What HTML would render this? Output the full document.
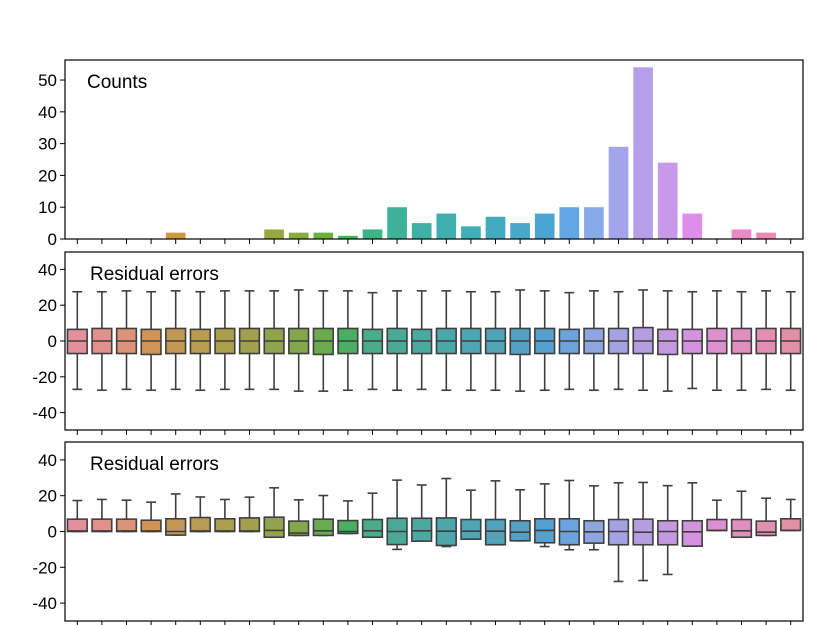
<!DOCTYPE html>
<html><head><meta charset="utf-8">
<style>
html,body{margin:0;padding:0;background:#fff;}
svg{display:block;font-family:"Liberation Sans",sans-serif;}
</style></head>
<body>
<svg id="chart" width="818" height="625" viewBox="0 0 818 625" xmlns="http://www.w3.org/2000/svg"></svg>
<script>
const categories = Array.from({length:30},(_,i)=>'c'+i);
const counts = [0,0,0,0,2,0,0,0,3,2,2,1,3,10,5,8,4,7,5,8,10,10,29,54,24,8,0,3,2,0];
const countTicks = [0,10,20,30,40,50];
const resTicks = [-40,-20,0,20,40];
// panel 2 boxes
const r1Q1 = [-7,-7,-7,-7.5,-7,-7,-7,-7,-7,-7,-7.5,-7,-7,-7,-7,-7,-7,-7,-7.5,-7,-7,-7,-7,-7,-7.5,-7,-7,-7,-7,-7];
const r1Med = [0,0,0,0,0,0,0,0,0,0,0,0,0,0,0,0,0,0,0,0,0,0,0,0,0,0,0,0,0,0];
const r1Q3 = [6.5,7,7,6.5,7,6.5,7,7,7,7,7,7,6.5,7,6.5,7,7,7,7,7,6.5,7,7,7.5,6.5,6.5,7,7,7,7];
const r1Lo = [-27,-27.5,-27,-27.5,-27,-27.5,-27,-27,-27,-28,-28,-27.5,-27,-27.5,-27,-27.5,-27.5,-27.5,-28,-27.5,-27,-27.5,-27,-27.5,-28,-26.5,-27.5,-27.5,-27,-27.5];
const r1Hi = [27.5,27.5,28,27.5,28,27.5,28,28,28,28.5,28,28,27,28,28,28,27.5,27.5,28.5,28,27,28,27.5,28.5,28,27.5,28,27.5,28,27.5];
// panel 3 boxes
const r2Q1 = [0,0,0,0,-2,0,0,0,-3.2,-2.2,-2.2,-1.1,-3.2,-7.3,-5.4,-7.8,-4.3,-7.4,-5.2,-6.3,-7.4,-6.5,-7.4,-7.4,-7.4,-8.2,0.6,-3.2,-2.2,0.6];
const r2Med = [0.3,0.3,0.3,0.3,0,0.3,0.3,0.3,0.6,-0.9,0.4,0,0.4,0,0.4,0.2,0.2,0.2,-0.4,0.6,0,-0.2,0,-0.4,0,-0.2,0.6,0.4,-0.4,0.6];
const r2Q3 = [6.9,6.9,6.9,6.3,7.1,7.8,7.1,7.6,8.0,5.8,6.9,6.1,6.7,7.4,7.4,7.6,6.7,6.7,6.0,7.1,7.1,6.0,6.7,6.9,6.0,6.0,6.7,6.7,5.8,7.1];
const r2Lo = [0,0,0,0,-2,0,0,0,-3.2,-2.2,-2.2,-1.1,-3.2,-10,-5.4,-8.4,-4.3,-7.4,-5.2,-8.4,-10.2,-10.2,-27.9,-27.4,-24,-8.2,0.6,-3.2,-2.2,0.6];
const r2Hi = [17.3,17.9,17.5,16.4,21,19.3,17.9,19.2,24.4,17.7,20.1,17.1,21.4,28.7,26,29.6,23.1,28.3,23.3,26.6,28.5,25.5,27.2,27.4,25.6,27.2,17.5,22.5,18.6,17.9];

const colors=['#f0879a','#ef8a80','#e98d6b','#e09347','#cf9845','#c39d3f','#b5a13d','#a8a43d','#98a83d','#86ad3d','#68b340','#3db656','#3cb487','#3eb299','#3fb0a5','#40afae','#42adb7','#45aabf','#48a8c9','#4aa4d4','#62a6e6','#88aae9','#a3a5ec','#b79fec','#c799ea','#dc8ee8','#e689d9','#eb88c6','#ec8ab4','#ee89a6'];
const boxColors=['#e2909b','#e0928a','#db9477','#d09459','#c39856','#b89c50','#ab9e4e','#a0a04e','#92a34f','#83a64f','#6aab52','#4cae62','#4aac88','#4aaa97','#4ba9a2','#4ca7aa','#4ea5b3','#51a3ba','#53a1c4','#56a0cd','#6da3dc','#8ea6df','#a5a2e2','#b69de2','#c499e0','#d592de','#dc8fd1','#e08fc0','#e190b1','#e290a5'];

const svg=document.getElementById('chart');
const NS='http://www.w3.org/2000/svg';
function mk(tag,attrs,parent){const e=document.createElementNS(NS,tag);for(const k in attrs)e.setAttribute(k,attrs[k]);(parent||svg).appendChild(e);return e;}
const X0=65,X1=803,N=categories.length,BW=(X1-X0)/N;
function xc(i){return X0+BW*(i+0.5);}

function panel(name,top,bottom,ymin,ymax,ticks,title,titleX){
  const g=mk('g',{});
  
  
  const y=v=>bottom-(v-ymin)/(ymax-ymin)*(bottom-top);
  for(const t of ticks){
    const l=mk('line',{x1:X0-5,x2:X0,y1:y(t),y2:y(t),stroke:'#000','stroke-width':1},g);
    
    
    const tx=mk('text',{x:X0-8,y:y(t)+6,'text-anchor':'end','font-size':17,fill:'#000'},g);
    
    
    tx.textContent=t;
  }
  for(let i=0;i<N;i++){
    const l=mk('line',{x1:xc(i),x2:xc(i),y1:bottom,y2:bottom+5,stroke:'#000','stroke-width':1},g);
    
    
  }
  const tt=mk('text',{x:titleX,y:top+28,'font-size':19,fill:'#000'},g);
  
  
  tt.textContent=title;
  return {g,y};
}
function frame(g,top,bottom){
  const r=mk('rect',{x:X0,y:top,width:X1-X0,height:bottom-top,fill:'none',stroke:'#000','stroke-width':1.2},g);
  
  
}

// Panel 1 bars
const p1=panel('counts-panel',60,239,0,56.3,countTicks,'Counts',87);
for(let i=0;i<N;i++){
  if(!counts[i])continue;
  const w=BW*0.8;
  const b=mk('rect',{x:xc(i)-w/2,y:p1.y(counts[i]),width:w,height:p1.y(0)-p1.y(counts[i]),fill:colors[i]},p1.g);
  
  
}
frame(p1.g,60,239);

function boxes(p,q1,med,q3,lo,hi,prefix){
  for(let i=0;i<N;i++){
    const g=mk('g',{},p.g);
    
    
    const w=BW*0.8,cx=xc(i),cw=w/2;
    const st={stroke:'#3f3f3f','stroke-width':1.6};
    mk('line',Object.assign({x1:cx,x2:cx,y1:p.y(q3[i]),y2:p.y(hi[i])},st),g);
    mk('line',Object.assign({x1:cx,x2:cx,y1:p.y(q1[i]),y2:p.y(lo[i])},st),g);
    mk('line',Object.assign({x1:cx-cw/2,x2:cx+cw/2,y1:p.y(hi[i]),y2:p.y(hi[i])},st),g);
    mk('line',Object.assign({x1:cx-cw/2,x2:cx+cw/2,y1:p.y(lo[i]),y2:p.y(lo[i])},st),g);
    mk('rect',Object.assign({x:cx-w/2,y:p.y(q3[i]),width:w,height:Math.max(0.5,p.y(q1[i])-p.y(q3[i])),fill:boxColors[i]},st),g);
    mk('line',Object.assign({x1:cx-w/2,x2:cx+w/2,y1:p.y(med[i]),y2:p.y(med[i])},st),g);
  }
}
const p2=panel('residuals-panel-1',252,430,-49.7,49.7,resTicks,'Residual errors',90);
boxes(p2,r1Q1,r1Med,r1Q3,r1Lo,r1Hi,'res1');
frame(p2.g,252,430);
const p3=panel('residuals-panel-2',442,621,-50,50,resTicks,'Residual errors',90);
boxes(p3,r2Q1,r2Med,r2Q3,r2Lo,r2Hi,'res2');
frame(p3.g,442,621);
</script>
</body></html>
